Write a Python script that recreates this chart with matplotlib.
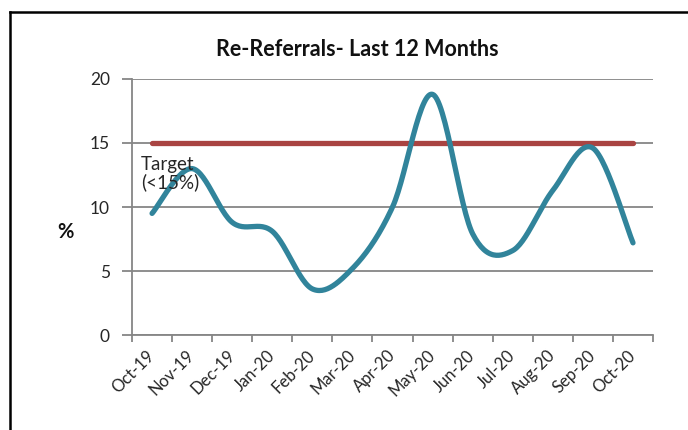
import matplotlib.pyplot as plt
import matplotlib.lines as mlines
import numpy as np

months = ["Oct-19", "Nov-19", "Dec-19", "Jan-20", "Feb-20", "Mar-20", "Apr-20",
          "May-20", "Jun-20", "Jul-20", "Aug-20", "Sep-20", "Oct-20"]
re_referrals = [9.5, 13.0, 8.8, 8.1, 3.6, 5.2, 10.0, 18.8, 7.9, 6.6, 11.3, 14.6, 7.2]
target = [15] * len(months)

plt.rcParams['font.family'] = ['Lato', 'DejaVu Sans']


def smooth(y, n=30):
    # Excel style smoothed line: bezier segments, control points at 1/6 of neighbours
    y = np.asarray(y, dtype=float)
    x = np.arange(len(y), dtype=float)
    px = np.concatenate([[x[0]], x, [x[-1]]])
    py = np.concatenate([[y[0]], y, [y[-1]]])
    xs, ys = [], []
    t = np.linspace(0, 1, n)
    for i in range(len(y) - 1):
        p0x, p0y = px[i + 1], py[i + 1]
        p3x, p3y = px[i + 2], py[i + 2]
        c1x = p0x + (px[i + 2] - px[i]) / 6
        c1y = p0y + (py[i + 2] - py[i]) / 6
        c2x = p3x - (px[i + 3] - px[i + 1]) / 6
        c2y = p3y - (py[i + 3] - py[i + 1]) / 6
        bx = (1 - t) ** 3 * p0x + 3 * (1 - t) ** 2 * t * c1x + 3 * (1 - t) * t ** 2 * c2x + t ** 3 * p3x
        by = (1 - t) ** 3 * p0y + 3 * (1 - t) ** 2 * t * c1y + 3 * (1 - t) * t ** 2 * c2y + t ** 3 * p3y
        xs.extend(bx)
        ys.extend(by)
    return np.array(xs), np.array(ys)


fig = plt.figure(figsize=(6.88, 4.3), dpi=100)
ax = fig.add_axes([0.1919, 0.2209, 0.7573, 0.5954])

grey = "#868686"
ax.set_xlim(-0.5, len(months) - 0.5)
ax.set_ylim(0, 20)
ax.set_yticks([0, 5, 10, 15, 20])
ax.yaxis.grid(True, color=grey, linewidth=1.3)
ax.set_axisbelow(True)

ax.plot(np.arange(len(months)), target, color="#A94442", linewidth=3.8,
        solid_capstyle="round", zorder=3)
sx, sy = smooth(re_referrals)
ax.plot(sx, sy, color="#31849B", linewidth=3.8, solid_capstyle="round", zorder=4)

for s in ["top", "right"]:
    ax.spines[s].set_visible(False)
for s in ["left", "bottom"]:
    ax.spines[s].set_color(grey)
    ax.spines[s].set_linewidth(1.3)

ax.set_xticks(np.arange(len(months)))
ax.set_xticklabels(months, rotation=45, ha="right", va="center",
                   rotation_mode="anchor", fontsize=12, color="#262626")
ax.set_xticks(np.arange(len(months) + 1) - 0.5, minor=True)
ax.tick_params(axis="x", which="major", length=0, pad=13)
ax.tick_params(axis="x", which="minor", length=5, width=1.3, color=grey)
ax.tick_params(axis="y", length=7, width=1.3, color=grey, labelsize=12.5,
               labelcolor="#262626", pad=9)

fig.text(65 / 688, 1 - 232 / 430, "%", fontsize=14.5, fontweight="bold",
         ha="center", va="center", color="#111111")
ax.text(-0.27, 13.95, "Target\n(<15%)", fontsize=13.5, color="#262626",
        ha="left", va="top", zorder=5, linespacing=1.0)

fig.text(357 / 688, 1 - 50 / 430, "Re-Referrals- Last 12 Months", ha="center",
         va="center", fontsize=15.5, fontweight="bold", color="#111111")

# outer frame lines (top and left)
fig.add_artist(mlines.Line2D([10 / 688, 1], [1 - 12 / 430, 1 - 12 / 430],
                             color="black", linewidth=1.8, transform=fig.transFigure))
fig.add_artist(mlines.Line2D([10 / 688, 10 / 688], [0, 1 - 12 / 430],
                             color="black", linewidth=1.8, transform=fig.transFigure))

fig.savefig("out.png", dpi=100)
